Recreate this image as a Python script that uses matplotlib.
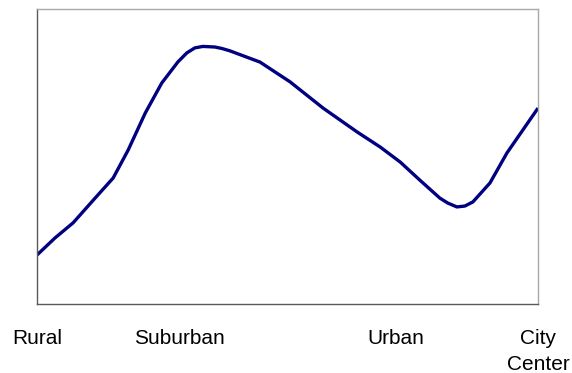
import matplotlib
matplotlib.use("Agg")
import matplotlib.pyplot as plt

# distance along the transect (0-100) and relative level (0-100)
distance = [0, 3.6, 7.2, 11.6, 15.2, 18.2, 21.6, 24.9, 28.1, 29.9, 31.5, 33.1,
            35.5, 36.9, 38.5, 44.5, 50.5, 57.1, 63.9, 68.5, 72.5, 76.4, 80.4,
            82.0, 83.8, 85.4, 87.0, 90.4, 93.8, 100]
level = [16.6, 22.4, 27.5, 35.9, 42.7, 52.2, 64.7, 74.9, 82.0, 85.1, 86.8, 87.3,
         87.1, 86.6, 85.8, 82.0, 75.3, 66.4, 58.3, 53.2, 48.1, 42.0, 35.9,
         34.2, 32.9, 33.2, 34.6, 41.0, 51.2, 66.4]

zone_labels = ["Rural", "Suburban", "Urban", "City\nCenter"]
zone_positions = [0, 28.5, 71.7, 100]

fig = plt.figure(figsize=(5.72, 3.73), dpi=100)
ax = fig.add_axes([0.0647, 0.185, 0.8759, 0.791])

ax.plot(distance, level, color="#000080", linewidth=2.4,
        solid_joinstyle="round", solid_capstyle="butt")

ax.set_xlim(0, 100)
ax.set_ylim(0, 100)
ax.set_yticks([])
ax.set_xticks(zone_positions)
ax.set_xticklabels(zone_labels, fontsize=15, family="Liberation Sans",
                   linespacing=1.5)
ax.tick_params(axis="x", length=0, pad=18)

for side in ["left", "bottom"]:
    ax.spines[side].set_color("#5a5a5a")
    ax.spines[side].set_linewidth(1.0)
for side in ["top", "right"]:
    ax.spines[side].set_color("#a8a8a8")
    ax.spines[side].set_linewidth(1.0)

fig.savefig("out.png", dpi=100)
